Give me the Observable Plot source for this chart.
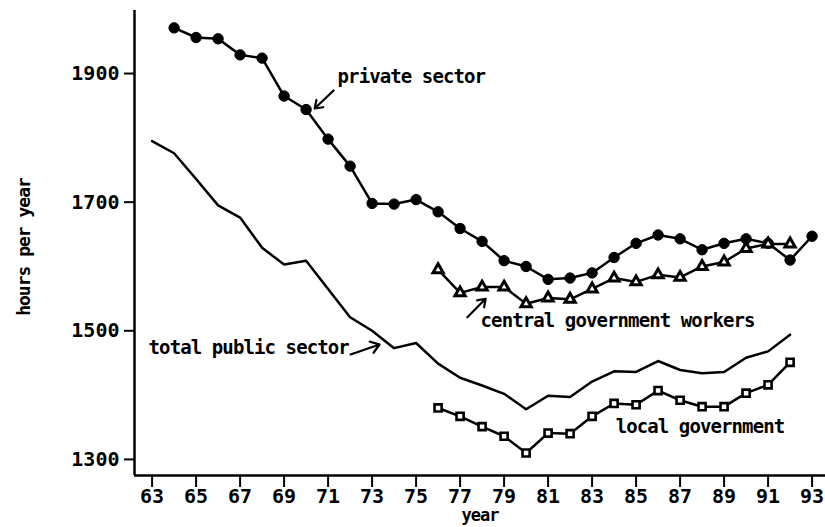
<!DOCTYPE html>
<html><head><meta charset="utf-8">
<script src="https://cdn.jsdelivr.net/npm/d3@7"></script>
<script src="https://cdn.jsdelivr.net/npm/@observablehq/plot@0.6"></script>
<style>
body{margin:0;background:#fff}
#chart svg{display:block;overflow:visible}
</style>
</head><body><div id="chart"></div>
<script>
// ---- data ----
const privateYears = [64,65,66,67,68,69,70,71,72,73,74,75,76,77,78,79,80,81,82,83,84,85,86,87,88,89,90,91,92,93];
const privateHours = [1971,1956,1954,1929,1924,1865,1844,1798,1756,1698,1697,1704,1685,1659,1639,1609,1600,1580,1582,1590,1614,1636,1649,1643,1626,1636,1643,1636,1610,1647];

const centralYears = [76,77,78,79,80,81,82,83,84,85,86,87,88,89,90,91,92];
const centralHours = [1595,1559,1568,1568,1542,1551,1549,1565,1582,1576,1587,1583,1600,1607,1628,1635,1635];

const localYears = [76,77,78,79,80,81,82,83,84,85,86,87,88,89,90,91,92];
const localHours = [1380,1367,1351,1336,1310,1341,1340,1367,1387,1385,1407,1392,1382,1382,1403,1416,1451];

const publicYears = [63,64,65,66,67,68,69,70,71,72,73,74,75,76,77,78,79,80,81,82,83,84,85,86,87,88,89,90,91,92];
const publicHours = [1795,1776,1736,1695,1676,1629,1603,1609,1565,1521,1500,1473,1481,1449,1427,1415,1402,1378,1399,1397,1421,1437,1436,1453,1439,1434,1436,1458,1468,1494];

const xTicks = [63,65,67,69,71,73,75,77,79,81,83,85,87,89,91,93];
const yTicks = [1300,1500,1700,1900];

const labelTexts = ["private sector","central government workers","local government","total public sector"];
const labelYears = [71.43, 77.93, 84.07, 62.84];
const labelHours = [1884.5, 1505.2, 1340.4, 1463.2];

const arrowFromYears = [71.25, 77.33, 72.02];
const arrowFromHours = [1873.6, 1521.2, 1463.2];
const arrowToYears   = [70.39, 78.16, 73.34];
const arrowToHours   = [1845.6, 1549.8, 1478.7];

const yTitle = "hours per year";
const xTitle = "year";

// ---- tables ----
const toRows = (xs, ys) => xs.map((year, i) => ({year, hours: ys[i]}));
const privateData = toRows(privateYears, privateHours);
const centralData = toRows(centralYears, centralHours);
const localData = toRows(localYears, localHours);
const publicData = toRows(publicYears, publicHours);
const labels = labelTexts.map((text, i) => ({text, year: labelYears[i], hours: labelHours[i]}));
const arrows = arrowFromYears.map((x1, i) => ({x1, y1: arrowFromHours[i], x2: arrowToYears[i], y2: arrowToHours[i]}));

const xDomain = [62.2, 93.61];
const yDomain = [1275, 1998];
const font = "'DejaVu Sans Mono', monospace";

const chart = Plot.plot({
  width: 825,
  height: 527,
  marginLeft: 134,
  marginRight: 0,
  marginTop: 10,
  marginBottom: 52,
  style: {fontFamily: font, fontWeight: "bold", color: "black", background: "white"},
  x: {domain: xDomain},
  y: {domain: yDomain},
  marks: [
    Plot.ruleX([xDomain[0]], {stroke: "black", strokeWidth: 2.5}),
    Plot.ruleY([yDomain[0]], {stroke: "black", strokeWidth: 2.5}),
    Plot.axisX({ticks: xTicks, tickSize: 12, tickPadding: 1, tickFormat: d => String(d), fontSize: 20, fontWeight: "bold", stroke: "black", strokeWidth: 2, label: null}),
    Plot.axisY({ticks: yTicks, tickSize: 10, tickPadding: 5, tickFormat: d => String(d), fontSize: 20, fontWeight: "bold", stroke: "black", strokeWidth: 2, label: null}),
    Plot.line(publicData, {x: "year", y: "hours", stroke: "black", strokeWidth: 2.5}),
    Plot.line(privateData, {x: "year", y: "hours", stroke: "black", strokeWidth: 2.5}),
    Plot.line(centralData, {x: "year", y: "hours", stroke: "black", strokeWidth: 2.5}),
    Plot.line(localData, {x: "year", y: "hours", stroke: "black", strokeWidth: 2.5}),
    Plot.dot(privateData, {x: "year", y: "hours", r: 5.2, fill: "black", stroke: "black", strokeWidth: 1}),
    Plot.dot(centralData, {x: "year", y: "hours", symbol: "triangle", r: 3.8, fill: "white", stroke: "black", strokeWidth: 3}),
    Plot.dot(localData, {x: "year", y: "hours", symbol: "square", r: 4, fill: "white", stroke: "black", strokeWidth: 2.6}),
    Plot.arrow(arrows, {x1: "x1", y1: "y1", x2: "x2", y2: "y2", stroke: "black", strokeWidth: 2.2, headLength: 10, headAngle: 70}),
    Plot.text(labels, {x: "year", y: "hours", text: "text", textAnchor: "start", lineAnchor: "bottom", fontSize: 19, fontWeight: "bold", fill: "black"}),
    Plot.text([yTitle], {frameAnchor: "left", textAnchor: "middle", lineAnchor: "middle", rotate: -90, dx: -110, dy: 4, fontSize: 18, fontWeight: "bold", fill: "black"}),
    Plot.text([xTitle], {frameAnchor: "bottom", textAnchor: "middle", lineAnchor: "bottom", dy: 45, fontSize: 17, fontWeight: "bold", fill: "black"})
  ]
});
document.getElementById("chart").appendChild(chart);

// tighten the letter spacing of the annotation and axis-title texts (narrow plotter lettering)
const tight = new Map([...labelTexts.map(t => [t, "-0.9px"]), [yTitle, "-1px"], [xTitle, "-1px"]]);
d3.select(chart).selectAll("text").each(function() {
  const t = this.textContent;
  if (tight.has(t) && this.childElementCount === 0) {
    this.setAttribute("letter-spacing", tight.get(t));
    this.style.letterSpacing = tight.get(t);
  }
});
</script>
</body></html>
